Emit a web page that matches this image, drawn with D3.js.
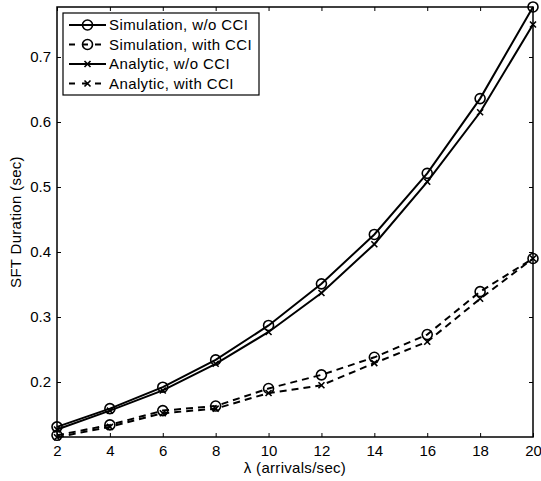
<!DOCTYPE html>
<html>
<head>
<meta charset="utf-8">
<script src="https://cdn.jsdelivr.net/npm/d3@7"></script>
<style>
  body { margin: 0; background: #fff; }
  text { font-family: "Liberation Sans", Arial, Helvetica, sans-serif; fill: #000; }
</style>
</head>
<body>
<script>
const w = 541;
const h = 481;
const margin = { top: 7, right: 8, bottom: 44, left: 57 };

// lambda values (arrivals/sec)
const lambdas = [2, 4, 6, 8, 10, 12, 14, 16, 18, 20];
// SFT duration (sec)
const simNoCci = [0.131, 0.159, 0.192, 0.234, 0.287, 0.351, 0.427, 0.521, 0.636, 0.777];
const simCci = [0.118, 0.134, 0.156, 0.163, 0.190, 0.211, 0.238, 0.273, 0.339, 0.390];
const anaNoCci = [0.127, 0.156, 0.187, 0.228, 0.277, 0.337, 0.412, 0.508, 0.615, 0.750];
const anaCci = [0.115, 0.131, 0.152, 0.159, 0.183, 0.195, 0.229, 0.262, 0.328, 0.390];
const yTicks = [0.2, 0.3, 0.4, 0.5, 0.6, 0.7];

const series = [
  { name: "Simulation, w/o CCI", values: simNoCci, dash: null, marker: "circle" },
  { name: "Simulation, with CCI", values: simCci, dash: "7,5", marker: "circle" },
  { name: "Analytic, w/o CCI", values: anaNoCci, dash: null, marker: "x" },
  { name: "Analytic, with CCI", values: anaCci, dash: "7,5", marker: "x" }
];

const svg = d3.select("body").append("svg")
  .attr("width", w)
  .attr("height", h);

const iw = w - margin.left - margin.right;
const ih = h - margin.top - margin.bottom;

const x = d3.scaleLinear().domain([2, 20]).range([margin.left, margin.left + iw]);
const y = d3.scaleLinear().domain([0.1154, 0.7769]).range([margin.top + ih, margin.top]);

// clip area
svg.append("clipPath").attr("id", "clip")
  .append("rect")
  .attr("x", margin.left - 6).attr("y", margin.top - 6)
  .attr("width", iw + 12).attr("height", ih + 12);

// axes with inward ticks
svg.append("g")
  .attr("transform", "translate(0," + (margin.top + ih) + ")")
  .call(d3.axisBottom(x).tickValues(lambdas).tickSizeInner(-4).tickSizeOuter(0).tickPadding(8))
  .call(g => g.selectAll("text").style("font-size", "15px"));
svg.append("g")
  .attr("transform", "translate(0," + margin.top + ")")
  .call(d3.axisTop(x).tickValues(lambdas).tickSizeInner(-4).tickSizeOuter(0).tickFormat(""));
svg.append("g")
  .attr("transform", "translate(" + margin.left + ",0)")
  .call(d3.axisLeft(y).tickValues(yTicks).tickSizeInner(-4).tickSizeOuter(0).tickPadding(6).tickFormat(d3.format(".1f")))
  .call(g => g.selectAll("text").style("font-size", "15px"));
svg.append("g")
  .attr("transform", "translate(" + (margin.left + iw) + ",0)")
  .call(d3.axisRight(y).tickValues(yTicks).tickSizeInner(-4).tickSizeOuter(0).tickFormat(""));

svg.selectAll(".domain").remove();
svg.selectAll(".tick line").attr("stroke", "#000").attr("stroke-width", 1);

svg.append("rect")
  .attr("x", margin.left).attr("y", margin.top)
  .attr("width", iw).attr("height", ih)
  .attr("fill", "none").attr("stroke", "#000").attr("stroke-width", 1.5);

// axis labels
svg.append("text")
  .attr("x", margin.left + iw / 2)
  .attr("y", 473)
  .attr("text-anchor", "middle")
  .style("font-size", "15px")
  .style("letter-spacing", "0.3px")
  .text("λ (arrivals/sec)");
svg.append("text")
  .attr("transform", "translate(21," + (margin.top + ih / 2) + ") rotate(-90)")
  .attr("text-anchor", "middle")
  .style("font-size", "15px")
  .style("letter-spacing", "0.3px")
  .text("SFT Duration (sec)");

function drawMarker(g, kind, cx, cy) {
  if (kind === "circle") {
    g.append("circle")
      .attr("cx", cx).attr("cy", cy).attr("r", 5)
      .attr("fill", "none").attr("stroke", "#000").attr("stroke-width", 1.6);
  } else {
    const s = 3;
    g.append("path")
      .attr("d", "M" + (cx - s) + "," + (cy - s) + "L" + (cx + s) + "," + (cy + s) +
        "M" + (cx - s) + "," + (cy + s) + "L" + (cx + s) + "," + (cy - s))
      .attr("stroke", "#000").attr("stroke-width", 1.6).attr("fill", "none");
  }
}

const line = d3.line().x(d => x(d[0])).y(d => y(d[1]));
const plot = svg.append("g").attr("clip-path", "url(#clip)");

series.forEach(function(s) {
  const pts = lambdas.map((l, i) => [l, s.values[i]]);
  plot.append("path")
    .datum(pts)
    .attr("d", line)
    .attr("fill", "none")
    .attr("stroke", "#000")
    .attr("stroke-width", 2)
    .attr("stroke-dasharray", s.dash);
  pts.forEach(p => drawMarker(plot, s.marker, x(p[0]), y(p[1])));
});

// legend
const lg = svg.append("g").attr("transform", "translate(63,13)");
lg.append("rect")
  .attr("width", 196).attr("height", 82)
  .attr("fill", "#fff").attr("stroke", "#000").attr("stroke-width", 1.2);
series.forEach(function(s, i) {
  const ry = 12 + i * 19.5;
  lg.append("line")
    .attr("x1", 6).attr("x2", 43).attr("y1", ry).attr("y2", ry)
    .attr("stroke", "#000").attr("stroke-width", 2)
    .attr("stroke-dasharray", s.dash ? "6,7" : null);
  drawMarker(lg, s.marker, 24.5, ry);
  lg.append("text")
    .attr("x", 46).attr("y", ry + 5)
    .style("font-size", "15px")
    .style("letter-spacing", "0.4px")
    .text(s.name);
});
</script>
</body>
</html>
